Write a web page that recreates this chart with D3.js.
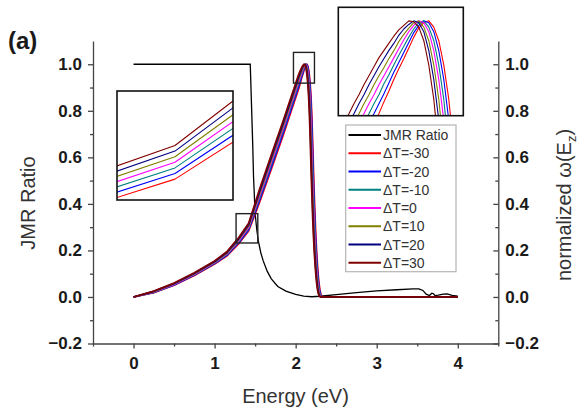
<!DOCTYPE html>
<html>
<head>
<meta charset="utf-8">
<script src="https://cdn.jsdelivr.net/npm/d3@7"></script>
<style>
  html, body { margin: 0; padding: 0; background: #fff; }
  svg { display: block; font-family: "Liberation Sans", Arial, sans-serif; }
</style>
</head>
<body>
<svg id="chart" width="579" height="414"></svg>
<script>
// ---------- data ----------
// energy grid (eV) shared by the normalized ω(E_z) curves
const energy = [
  0, 0.25, 0.5, 0.75, 1.0, 1.15, 1.3, 1.42, 1.55, 1.7, 1.85,
  1.96, 1.97, 1.98, 1.99, 2.00, 2.01, 2.02, 2.03, 2.04, 2.05,
  2.06, 2.07, 2.08, 2.09, 2.10, 2.11, 2.12, 2.13, 2.14, 2.15,
  2.16, 2.17, 2.18, 2.19, 2.20, 2.21, 2.22, 2.23, 2.24, 2.25,
  2.26, 2.27, 2.28, 2.29, 2.30, 2.31, 2.32, 2.33,
  2.5, 3.0, 3.5, 4.0
];

const omegaDTm30 = [
  0, 0.0187, 0.0505, 0.0923, 0.1411, 0.1757, 0.2295, 0.2835, 0.4015, 0.5485, 0.6985,
  0.814, 0.824, 0.835, 0.845, 0.855, 0.866, 0.876, 0.887, 0.897, 0.910,
  0.922, 0.935, 0.947, 0.958, 0.970, 0.982, 0.992, 0.998, 1.000, 0.993,
  0.978, 0.951, 0.913, 0.858, 0.778, 0.670, 0.550, 0.438, 0.340, 0.258,
  0.190, 0.135, 0.090, 0.055, 0.030, 0.014, 0.005, 0.001,
  0, 0, 0, 0
];
const omegaDTm20 = [
  0, 0.0198, 0.052, 0.0942, 0.1434, 0.1788, 0.234, 0.289, 0.411, 0.559, 0.709,
  0.824, 0.835, 0.845, 0.855, 0.866, 0.876, 0.887, 0.897, 0.908, 0.919,
  0.931, 0.943, 0.954, 0.965, 0.976, 0.987, 0.995, 1.000, 0.998, 0.988,
  0.967, 0.935, 0.890, 0.825, 0.730, 0.610, 0.490, 0.385, 0.295, 0.220,
  0.160, 0.110, 0.070, 0.040, 0.020, 0.008, 0.002, 0,
  0, 0, 0, 0
];
const omegaDTm10 = [
  0, 0.0209, 0.0535, 0.0961, 0.1457, 0.1819, 0.2385, 0.2945, 0.4205, 0.5695, 0.7195,
  0.835, 0.845, 0.855, 0.866, 0.876, 0.887, 0.897, 0.908, 0.918, 0.930,
  0.940, 0.951, 0.962, 0.972, 0.982, 0.991, 0.998, 1.000, 0.993, 0.978,
  0.951, 0.913, 0.858, 0.778, 0.670, 0.550, 0.438, 0.340, 0.258, 0.190,
  0.135, 0.090, 0.055, 0.030, 0.014, 0.005, 0.001, 0,
  0, 0, 0, 0
];
const omegaDT0 = [
  0, 0.022, 0.055, 0.098, 0.148, 0.185, 0.243, 0.300, 0.430, 0.580, 0.730,
  0.845, 0.855, 0.866, 0.876, 0.887, 0.897, 0.908, 0.918, 0.929, 0.939,
  0.949, 0.959, 0.969, 0.979, 0.988, 0.995, 1.000, 0.998, 0.988, 0.967,
  0.935, 0.890, 0.825, 0.730, 0.610, 0.490, 0.385, 0.295, 0.220, 0.160,
  0.110, 0.070, 0.040, 0.020, 0.008, 0.002, 0, 0,
  0, 0, 0, 0
];
const omegaDT10 = [
  0, 0.0231, 0.0565, 0.0999, 0.1503, 0.1881, 0.2475, 0.3055, 0.4395, 0.5905, 0.7405,
  0.855, 0.866, 0.876, 0.887, 0.897, 0.908, 0.918, 0.929, 0.939, 0.948,
  0.958, 0.967, 0.977, 0.985, 0.992, 0.998, 1.000, 0.993, 0.978, 0.951,
  0.913, 0.858, 0.778, 0.670, 0.550, 0.438, 0.340, 0.258, 0.190, 0.135,
  0.090, 0.055, 0.030, 0.014, 0.005, 0.001, 0, 0,
  0, 0, 0, 0
];
const omegaDT20 = [
  0, 0.0242, 0.058, 0.1018, 0.1526, 0.1912, 0.252, 0.311, 0.449, 0.601, 0.751,
  0.866, 0.876, 0.887, 0.897, 0.908, 0.918, 0.929, 0.939, 0.949, 0.958,
  0.967, 0.975, 0.984, 0.991, 0.996, 1.000, 0.998, 0.988, 0.967, 0.935,
  0.890, 0.825, 0.730, 0.610, 0.490, 0.385, 0.295, 0.220, 0.160, 0.110,
  0.070, 0.040, 0.020, 0.008, 0.002, 0, 0, 0,
  0, 0, 0, 0
];
const omegaDT30 = [
  0, 0.0253, 0.0595, 0.1037, 0.1549, 0.1943, 0.2565, 0.3165, 0.4585, 0.6115, 0.7615,
  0.876, 0.887, 0.897, 0.908, 0.918, 0.929, 0.939, 0.949, 0.959, 0.967,
  0.975, 0.983, 0.990, 0.995, 1.000, 0.999, 0.993, 0.978, 0.951, 0.913,
  0.858, 0.778, 0.670, 0.550, 0.438, 0.340, 0.258, 0.190, 0.135, 0.090,
  0.055, 0.030, 0.014, 0.005, 0.001, 0, 0, 0,
  0, 0, 0, 0
];

// JMR ratio curve
const jmrEnergy = [
  0, 1.0, 1.44, 1.47, 1.48, 1.50, 1.52, 1.54, 1.57, 1.60,
  1.65, 1.70, 1.78, 1.88, 2.0, 2.1, 2.2, 2.3, 2.5, 2.75,
  3.0, 3.25, 3.45, 3.52, 3.57, 3.61, 3.65, 3.68, 3.70, 3.72,
  3.76, 3.82, 3.87, 3.93, 4.0
];
const jmrRatio = [
  1.0, 1.0, 1.0, 0.66, 0.52, 0.36, 0.29, 0.24, 0.19, 0.155,
  0.11, 0.078, 0.045, 0.025, 0.011, 0.004, 0.001, 0.003, 0.010, 0.019,
  0.026, 0.031, 0.035, 0.035, 0.028, 0.012, 0.006, 0.016, 0.014, 0.006,
  0.008, 0.012, 0.013, 0.007, 0.003
];

const seriesNames = ["JMR Ratio", "ΔT=-30", "ΔT=-20", "ΔT=-10", "ΔT=0", "ΔT=10", "ΔT=20", "ΔT=30"];
const seriesColors = ["#000000", "#ff0000", "#0000ff", "#008080", "#ff00ff", "#808000", "#000080", "#800000"];
const omegaSeries = [omegaDTm30, omegaDTm20, omegaDTm10, omegaDT0, omegaDT10, omegaDT20, omegaDT30];

// axis ticks
const xMajorTicks = [0, 1, 2, 3, 4];
const xMinorTicks = [-0.5, 0.5, 1.5, 2.5, 3.5, 4.5];
const yMajorTicks = [-0.2, 0.0, 0.2, 0.4, 0.6, 0.8, 1.0];
const yMinorTicks = [-0.1, 0.1, 0.3, 0.5, 0.7, 0.9];

// magnified regions [eMin, eMax, vMin, vMax]
const zoomLow = [1.265, 1.533, 0.232, 0.358];
const zoomPeak = [1.973, 2.232, 0.919, 1.051];
// ranges shown inside the two inset panels
const insetLowDomain = [1.38, 1.46, 0.263, 0.37];
const insetPeakDomain = [1.959, 2.209, 0.895, 1.015];

// ---------- layout ----------
const svg = d3.select("#chart");
const x = d3.scaleLinear().domain([-0.5, 4.5]).range([93, 498.3]);
const y = d3.scaleLinear().domain([-0.2, 1.1]).range([343.5, 41]);
const axisColor = "#444";

function styleAxis(g) {
  g.selectAll("path.domain").attr("stroke", axisColor).attr("stroke-width", 1.3);
  g.selectAll(".tick line").attr("stroke", axisColor).attr("stroke-width", 1.3);
  g.selectAll(".tick text")
    .attr("fill", "#1a1a1a")
    .attr("font-family", "'Liberation Sans', Arial, sans-serif")
    .attr("font-weight", "bold")
    .attr("font-size", 17);
}
const fmt = d3.format(".1f");

// bottom axis
svg.append("g").attr("transform", `translate(0,${y(-0.2)})`)
  .call(d3.axisBottom(x).tickValues(xMinorTicks).tickSize(3).tickFormat(""))
  .call(g => g.select("path.domain").remove())
  .call(styleAxis);
svg.append("g").attr("transform", `translate(0,${y(-0.2)})`)
  .call(d3.axisBottom(x).tickValues(xMajorTicks).tickSizeInner(5).tickSizeOuter(0)
        .tickPadding(8).tickFormat(d3.format("d")))
  .call(styleAxis);

// left axis
svg.append("g").attr("transform", `translate(${x(-0.5)},0)`)
  .call(d3.axisLeft(y).tickValues(yMinorTicks).tickSize(3).tickFormat(""))
  .call(g => g.select("path.domain").remove())
  .call(styleAxis);
svg.append("g").attr("transform", `translate(${x(-0.5)},0)`)
  .call(d3.axisLeft(y).tickValues(yMajorTicks).tickSizeInner(5).tickSizeOuter(0)
        .tickPadding(6).tickFormat(fmt))
  .call(styleAxis);

// right axis (ticks point into the plot)
svg.append("g").attr("transform", `translate(${x(4.5)},0)`)
  .call(d3.axisRight(y).tickValues(yMinorTicks).tickSize(-3).tickFormat(""))
  .call(g => g.select("path.domain").remove())
  .call(styleAxis);
svg.append("g").attr("transform", `translate(${x(4.5)},0)`)
  .call(d3.axisRight(y).tickValues(yMajorTicks).tickSizeInner(-5).tickSizeOuter(0)
        .tickPadding(7).tickFormat(fmt))
  .call(styleAxis);

// axis titles
svg.append("text").attr("x", 295.5).attr("y", 403)
  .attr("text-anchor", "middle").attr("font-size", 20).attr("fill", "#333")
  .text("Energy (eV)");
svg.append("text").attr("transform", "translate(35,203) rotate(-90)")
  .attr("text-anchor", "middle").attr("font-size", 20).attr("fill", "#333")
  .text("JMR Ratio");
const rt = svg.append("text").attr("transform", "translate(571,205) rotate(-90)")
  .attr("text-anchor", "middle").attr("font-size", 20).attr("fill", "#333");
rt.append("tspan").text("normalized ω(E");
rt.append("tspan").attr("font-size", 13).attr("dy", 5).text("z");
rt.append("tspan").attr("dy", -5).text(")");

svg.append("text").attr("x", 8).attr("y", 49)
  .attr("font-size", 24).attr("font-weight", "bold").attr("fill", "#1a1a1a")
  .text("(a)");

// ---------- curves ----------
const plot = svg.append("g");
const jmrLine = d3.line().x((d, i) => x(jmrEnergy[i])).y(d => y(d));
plot.append("path").datum(jmrRatio)
  .attr("d", jmrLine).attr("fill", "none")
  .attr("stroke", seriesColors[0]).attr("stroke-width", 1.3);

const omegaLine = d3.line().x((d, i) => x(energy[i])).y(d => y(d));
omegaSeries.forEach((vals, k) => {
  plot.append("path").datum(vals)
    .attr("d", omegaLine).attr("fill", "none")
    .attr("stroke", seriesColors[k + 1]).attr("stroke-width", 1.7)
    .attr("stroke-linejoin", "round");
});

// zoom markers
[zoomLow, zoomPeak].forEach(r => {
  svg.append("rect")
    .attr("x", x(r[0])).attr("y", y(r[3]))
    .attr("width", x(r[1]) - x(r[0])).attr("height", y(r[2]) - y(r[3]))
    .attr("fill", "none").attr("stroke", "#222").attr("stroke-width", 1.4);
});

// ---------- insets ----------
function drawInset(id, box, dom) {
  const ix = d3.scaleLinear().domain([dom[0], dom[1]]).range([box.x, box.x + box.w]);
  const iy = d3.scaleLinear().domain([dom[2], dom[3]]).range([box.y + box.h, box.y]);
  svg.append("clipPath").attr("id", id)
    .append("rect").attr("x", box.x).attr("y", box.y).attr("width", box.w).attr("height", box.h);
  svg.append("rect").attr("x", box.x).attr("y", box.y).attr("width", box.w).attr("height", box.h)
    .attr("fill", "#fff");
  const g = svg.append("g").attr("clip-path", `url(#${id})`);
  const line = d3.line().x((d, i) => ix(energy[i])).y(d => iy(d)).curve(d3.curveLinear);
  omegaSeries.forEach((vals, k) => {
    g.append("path").datum(vals).attr("d", line).attr("fill", "none")
      .attr("stroke", seriesColors[k + 1]).attr("stroke-width", 1.1)
      .attr("stroke-linejoin", "round");
  });
  svg.append("rect").attr("x", box.x).attr("y", box.y).attr("width", box.w).attr("height", box.h)
    .attr("fill", "none").attr("stroke", "#111").attr("stroke-width", 1.6);
}
drawInset("clipLow", { x: 117, y: 91, w: 116, h: 109 }, insetLowDomain);
drawInset("clipPeak", { x: 338.3, y: 7.3, w: 125, h: 108.4 }, insetPeakDomain);

// ---------- legend ----------
const legend = svg.append("g");
legend.append("rect").attr("x", 345.7).attr("y", 125).attr("width", 110.3).attr("height", 146.7)
  .attr("fill", "#fff").attr("stroke", "#b5b5b5").attr("stroke-width", 1.2);
seriesNames.forEach((name, i) => {
  const ly = 135 + i * 18.25;
  legend.append("line").attr("x1", 348.5).attr("x2", 381).attr("y1", ly).attr("y2", ly)
    .attr("stroke", seriesColors[i]).attr("stroke-width", 1.8);
  legend.append("text").attr("x", 383).attr("y", ly).attr("dy", "0.36em")
    .attr("font-size", 14).attr("fill", "#333").text(name);
});
</script>
</body>
</html>
